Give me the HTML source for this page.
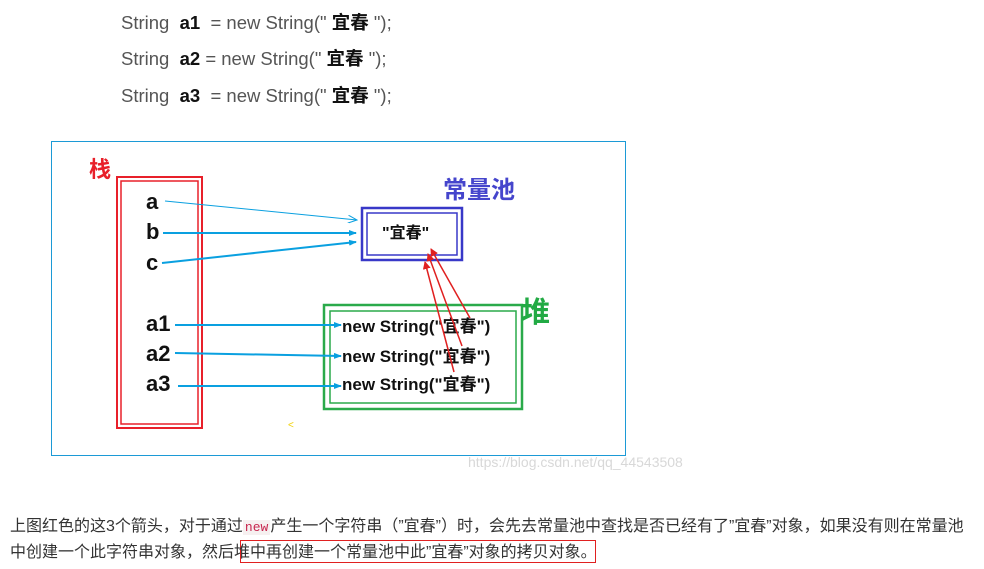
<!DOCTYPE html>
<html><head><meta charset="utf-8"><style>
body{margin:0;width:984px;height:569px;background:#fff;overflow:hidden;position:relative;font-family:"Liberation Sans","Noto Sans CJK SC",sans-serif}
.c{position:absolute;left:121px;font-size:18.5px;color:#555;white-space:pre}
.c b{color:#111}
.p{position:absolute;left:10px;font-size:16px;color:#333;white-space:nowrap;letter-spacing:0px}
</style></head><body>
<div class="c" style="top:9px">String  <b>a1</b>  = new String(" <b>宜春</b> ");</div>
<div class="c" style="top:45px">String  <b>a2</b> = new String(" <b>宜春</b> ");</div>
<div class="c" style="top:82px">String  <b>a3</b>  = new String(" <b>宜春</b> ");</div>
<svg style="position:absolute;left:0;top:0" width="984" height="569">
<defs>
<marker id="ab" markerWidth="8" markerHeight="6" refX="7" refY="3" orient="auto" markerUnits="userSpaceOnUse"><path d="M0,0L8,3L0,6z" fill="#0aa0e0"/></marker>
<marker id="ah" markerWidth="10" markerHeight="8" refX="9" refY="4" orient="auto" markerUnits="userSpaceOnUse"><path d="M0,0L9,4L0,8" fill="none" stroke="#0aa0e0"/></marker>
<marker id="ar" markerWidth="8" markerHeight="8" refX="7" refY="4" orient="auto" markerUnits="userSpaceOnUse"><path d="M0,0L8,4L0,8z" fill="#e02020"/></marker>
</defs>
<rect x="51.5" y="141.5" width="574" height="314" fill="none" stroke="#1c9ad6" stroke-width="1"/>
<rect x="117" y="177" width="85" height="251" fill="none" stroke="#e8202a" stroke-width="2"/>
<rect x="121" y="181" width="77" height="243" fill="none" stroke="#e8202a" stroke-width="1.5"/>
<text x="89" y="177" font-size="22" font-weight="bold" fill="#e8202a" font-family="Noto Sans CJK SC">栈</text>
<g font-size="22" font-weight="bold" fill="#111">
<text x="146" y="209">a</text><text x="146" y="239">b</text><text x="146" y="270">c</text>
<text x="146" y="331">a1</text><text x="146" y="361">a2</text><text x="146" y="391">a3</text></g>
<rect x="362" y="208" width="100" height="52" fill="none" stroke="#3838c8" stroke-width="2.5"/>
<rect x="367" y="213" width="90" height="42" fill="none" stroke="#3838c8" stroke-width="1.5"/>
<text x="382" y="238" font-size="16" font-weight="bold" fill="#111">"宜春"</text>
<text x="443" y="198" font-size="24" font-weight="bold" fill="#4545cc" font-family="Noto Sans CJK SC">常量池</text>
<rect x="324" y="305" width="198" height="104" fill="none" stroke="#2aaa4a" stroke-width="2.5"/>
<rect x="330" y="311" width="186" height="92" fill="none" stroke="#2aaa4a" stroke-width="1.5"/>
<text x="521" y="322" font-size="29" font-weight="bold" fill="#22aa44" font-family="Noto Sans CJK SC">堆</text>
<g font-size="17" font-weight="bold" fill="#111">
<text x="342" y="332">new String("宜春")</text>
<text x="342" y="362">new String("宜春")</text>
<text x="342" y="390">new String("宜春")</text></g>
<g stroke="#0aa0e0" fill="none">
<line x1="165" y1="201" x2="357" y2="220" marker-end="url(#ah)" stroke-width="1"/>
<line x1="163" y1="233" x2="356" y2="233" marker-end="url(#ab)" stroke-width="2"/>
<line x1="162" y1="263" x2="356" y2="242" marker-end="url(#ab)" stroke-width="2"/>
<line x1="175" y1="325" x2="341" y2="325" marker-end="url(#ab)" stroke-width="2"/>
<line x1="175" y1="353" x2="341" y2="356" marker-end="url(#ab)" stroke-width="2"/>
<line x1="178" y1="386" x2="341" y2="386" marker-end="url(#ab)" stroke-width="2"/>
</g>
<g stroke="#e02020" stroke-width="1.5">
<line x1="470" y1="318" x2="431" y2="249" marker-end="url(#ar)"/>
<line x1="462" y1="346" x2="428" y2="254" marker-end="url(#ar)"/>
<line x1="454" y1="372" x2="425" y2="262" marker-end="url(#ar)"/>
</g>
<text x="288" y="428" font-size="10" fill="#f0d000">&lt;</text>
<text x="468" y="467" font-size="14" fill="#d8d8d8">https://blog.csdn.net/qq_44543508</text>
<rect x="240.5" y="540.5" width="355" height="22" fill="none" stroke="#e02020" stroke-width="1"/>
</svg>
<div class="p" style="top:512px">上图红色的这3个箭头，对于通过<span style="background:#f6f0f0;color:#c7254e;font-family:'Liberation Mono',monospace;font-size:13px;padding:0 2px">new</span>产生一个字符串（”宜春”）时，会先去常量池中查找是否已经有了”宜春”对象，如果没有则在常量池</div>
<div class="p" style="top:538px">中创建一个此字符串对象，然后堆中再创建一个常量池中此”宜春”对象的拷贝对象。</div>
</body></html>
